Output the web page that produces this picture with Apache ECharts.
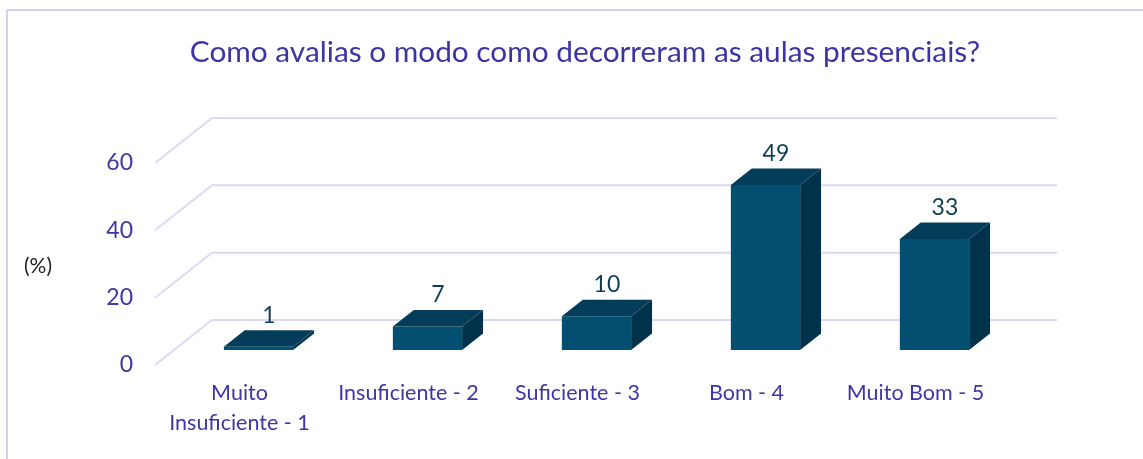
<!DOCTYPE html>
<html>
<head>
<meta charset="utf-8">
<style>
  html, body { margin: 0; padding: 0; background: #ffffff; }
  #chart { width: 1143px; height: 459px; }
</style>
<script src="https://cdn.jsdelivr.net/npm/echarts@6/dist/echarts.min.js"></script>
</head>
<body>
<div id="chart"></div>
<script>
// Survey answers (%), one bar per rating
const categories = ['Muito\nInsuficiente - 1', 'Insuficiente - 2', 'Suficiente - 3', 'Bom - 4', 'Muito Bom - 5'];
const values = [1, 7, 10, 49, 33];
const yTicks = [0, 20, 40, 60];

const FONT = 'Lato, "Open Sans", sans-serif';
const TEXT_BLUE = '#3d36a6';
const GRID_COLOR = '#dcd9f4';
// Offset from the front plane to the back wall of the pseudo-3D box
const DX = 57, DY = -45;
// Depth range (fraction of the box) that each bar occupies
const F_FRONT = 1 / 3, F_BACK = 0.70;

const chart = echarts.init(document.getElementById('chart'), null, { renderer: 'canvas' });

function renderGridLine(params, api) {
  const v = api.value(1);
  const y = api.coord([0, v])[1];
  const cs = params.coordSys;
  return {
    type: 'polyline',
    shape: { points: [[cs.x, y], [cs.x + DX, y + DY], [cs.x + cs.width + DX, y + DY]] },
    style: { stroke: GRID_COLOR, lineWidth: 2, fill: null },
    silent: true
  };
}

function renderBar(params, api) {
  const i = api.value(0), v = api.value(1);
  const p0 = api.coord([i, 0]);
  const p1 = api.coord([i, v]);
  const slot = api.size([1, 0])[0];
  const bw = slot * 0.41;
  const fx = p0[0] + DX * F_FRONT - bw / 2;
  const by = p0[1] + DY * F_FRONT;
  const ty = p1[1] + DY * F_FRONT;
  const ddx = DX * (F_BACK - F_FRONT), ddy = DY * (F_BACK - F_FRONT);
  return {
    type: 'group',
    children: [
      {
        type: 'polygon',
        shape: { points: [[fx + bw, ty], [fx + bw + ddx, ty + ddy], [fx + bw + ddx, by + ddy], [fx + bw, by]] },
        style: { fill: '#01324b' }
      },
      {
        type: 'rect',
        shape: { x: fx, y: ty, width: bw, height: by - ty },
        style: { fill: '#024f71' }
      },
      {
        type: 'polygon',
        shape: { points: [[fx, ty], [fx + bw, ty], [fx + bw + ddx, ty + ddy], [fx + ddx, ty + ddy]] },
        style: { fill: '#033d59' }
      },
      {
        type: 'text',
        style: {
          x: fx + bw / 2 + ddx / 2,
          y: ty + ddy - 15,
          text: String(v),
          fill: '#0f3d56',
          font: '23px ' + FONT,
          align: 'center',
          verticalAlign: 'middle'
        }
      }
    ]
  };
}

const option = {
  backgroundColor: '#ffffff',
  animation: false,
  title: {
    text: 'Como avalias o modo como decorreram as aulas presenciais?',
    left: 580,
    textAlign: 'center',
    top: 32,
    textStyle: { color: '#3b35a3', fontSize: 29.8, fontWeight: 'normal', fontFamily: FONT }
  },
  graphic: [
    { type: 'line', shape: { x1: 7, y1: 10, x2: 1143, y2: 10 }, style: { stroke: '#d3d0f3', lineWidth: 2 } },
    { type: 'line', shape: { x1: 7, y1: 10, x2: 7, y2: 459 }, style: { stroke: '#d3d0f3', lineWidth: 2 } },
    {
      type: 'text', left: 24, top: 256,
      style: { text: '(%)', fill: '#222222', font: '21px ' + FONT }
    }
  ],
  grid: { left: 155, top: 163, width: 845, height: 202 },
  xAxis: {
    type: 'category',
    data: categories,
    axisLine: { show: false },
    axisTick: { show: false },
    splitLine: { show: false },
    axisLabel: { interval: 0, color: TEXT_BLUE, fontSize: 21.5, lineHeight: 30, margin: 13, fontFamily: FONT }
  },
  yAxis: {
    type: 'value',
    min: 0, max: 60, interval: 20,
    axisLine: { show: false },
    axisTick: { show: false },
    splitLine: { show: false },
    axisLabel: { color: TEXT_BLUE, fontSize: 23, margin: 22, fontFamily: FONT }
  },
  series: [
    {
      type: 'custom',
      renderItem: renderGridLine,
      data: yTicks.map(v => [0, v]),
      encode: { x: 0, y: 1 },
      silent: true,
      z: 1
    },
    {
      type: 'custom',
      renderItem: renderBar,
      data: values.map((v, i) => [i, v]),
      encode: { x: 0, y: 1 },
      z: 2
    }
  ]
};

chart.setOption(option);
</script>
</body>
</html>
